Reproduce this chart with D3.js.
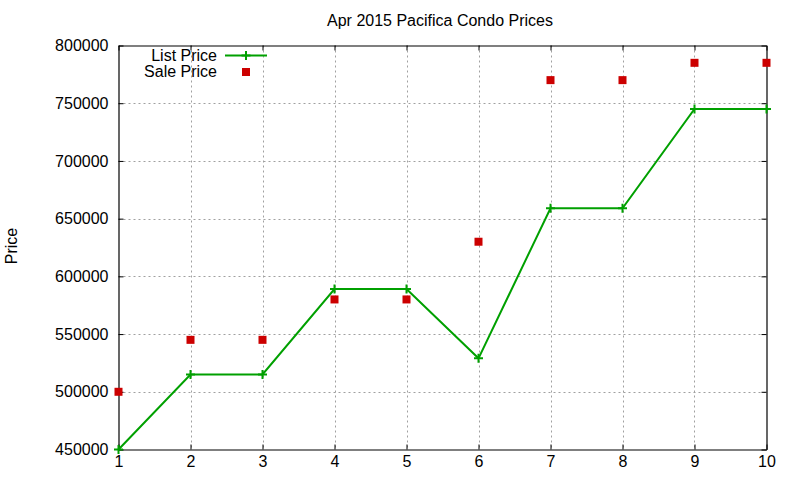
<!DOCTYPE html>
<html>
<head>
<meta charset="utf-8">
<script src="https://cdn.jsdelivr.net/npm/d3@7"></script>
<style>
body{margin:0;background:#fff;}
text{font-family:"Liberation Sans",Arial,sans-serif;fill:#000;}
</style>
</head>
<body>
<svg id="chart" width="800" height="480"></svg>
<script>
const months = [1,2,3,4,5,6,7,8,9,10];
const listPrice = [450000,515000,515000,589000,589000,529000,659000,659000,745000,745000];
const salePrice = [500000,545000,545000,580000,580000,630000,770000,770000,785000,785000];
const xTicks = [1,2,3,4,5,6,7,8,9,10];
const yTicks = [450000,500000,550000,600000,650000,700000,750000,800000];
const title = "Apr 2015 Pacifica Condo Prices";
const yLabel = "Price";
const seriesNames = ["List Price","Sale Price"];

const svg = d3.select("#chart");
const L=118.5, R=766.5, T=45.5, B=449.5;
const x = d3.scaleLinear().domain([1,10]).range([L,R]);
const y = d3.scaleLinear().domain([450000,800000]).range([B,T]);
const green="#00a000", red="#cc0000";

// grid
const g = svg.append("g");
g.selectAll("line.gx").data(xTicks.slice(1,-1)).enter().append("line")
  .attr("x1",d=>Math.round(x(d))+0.5).attr("x2",d=>Math.round(x(d))+0.5)
  .attr("y1",T).attr("y2",B).attr("stroke","#a0a0a0").attr("stroke-dasharray","2,3");
g.selectAll("line.gy").data(yTicks.slice(1,-1)).enter().append("line")
  .attr("y1",d=>Math.round(y(d))+0.5).attr("y2",d=>Math.round(y(d))+0.5)
  .attr("x1",L).attr("x2",R).attr("stroke","#a0a0a0").attr("stroke-dasharray","2,3");

// axes
const ax = svg.append("g");
const xb = ax.append("g").attr("transform",`translate(0,${B})`)
  .call(d3.axisBottom(x).tickValues(xTicks).tickSizeInner(-5).tickSizeOuter(0).tickPadding(6).tickFormat(d3.format("d")));
const xt = ax.append("g").attr("transform",`translate(0,${T})`)
  .call(d3.axisTop(x).tickValues(xTicks).tickSizeInner(-5).tickSizeOuter(0).tickFormat(""));
const yl = ax.append("g").attr("transform",`translate(${L},0)`)
  .call(d3.axisLeft(y).tickValues(yTicks).tickSizeInner(-5).tickSizeOuter(0).tickPadding(10).tickFormat(d3.format("d")));
const yr = ax.append("g").attr("transform",`translate(${R},0)`)
  .call(d3.axisRight(y).tickValues(yTicks).tickSizeInner(-5).tickSizeOuter(0).tickFormat(""));
ax.selectAll(".domain").attr("stroke","#000").attr("stroke-width",1.2);
ax.selectAll(".tick line").attr("stroke","#000");
ax.selectAll(".tick text").style("font-size","16px").style("font-family","Liberation Sans, Arial, sans-serif").attr("fill","#000");
xb.selectAll(".tick text").attr("dy","0.71em");

// title
svg.append("text").attr("x",440).attr("y",26).attr("text-anchor","middle").style("font-size","16px").text(title);
svg.append("text").attr("transform","translate(17,246) rotate(-90)").attr("text-anchor","middle").style("font-size","16px").text(yLabel);

// list line
const line = d3.line().x((d,i)=>x(months[i])).y(d=>y(d));
svg.append("path").datum(listPrice).attr("d",line).attr("fill","none").attr("stroke",green).attr("stroke-width",2);
const plus = (sel,px,py)=>{
  sel.append("path").attr("d",`M${px-4.5},${py}H${px+4.5}M${px},${py-4.5}V${py+4.5}`).attr("stroke",green).attr("stroke-width",2);
};
listPrice.forEach((v,i)=>plus(svg,x(months[i]),y(v)));

// sale points
svg.selectAll("rect.sale").data(salePrice).enter().append("rect")
  .attr("x",(d,i)=>x(months[i])-4).attr("y",d=>y(d)-4).attr("width",8).attr("height",8).attr("fill",red);

// legend
svg.append("text").attr("x",217).attr("y",61).attr("text-anchor","end").style("font-size","16px").text(seriesNames[0]);
svg.append("line").attr("x1",225).attr("x2",267).attr("y1",55.5).attr("y2",55.5).attr("stroke",green).attr("stroke-width",2);
plus(svg,246,55.5);
svg.append("text").attr("x",217).attr("y",77).attr("text-anchor","end").style("font-size","16px").text(seriesNames[1]);
svg.append("rect").attr("x",242).attr("y",68).attr("width",8).attr("height",8).attr("fill",red);
</script>
</body>
</html>
